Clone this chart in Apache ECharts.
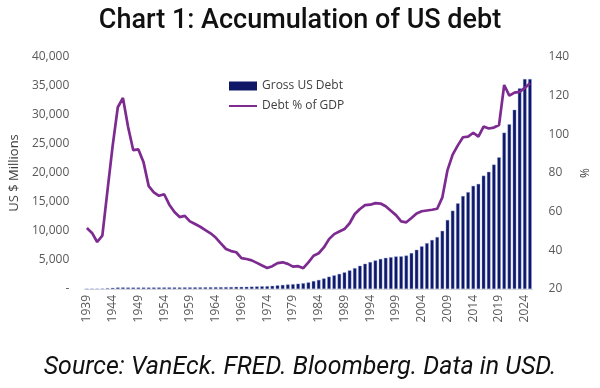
<!DOCTYPE html>
<html>
<head>
<meta charset="utf-8">
<script src="https://cdn.jsdelivr.net/npm/echarts@6/dist/echarts.min.js"></script>
<style>html,body{margin:0;padding:0;background:#fff}#c{width:600px;height:388px}</style>
</head>
<body>
<div id="c"></div>
<script>
const years = [];
for (let y = 1939; y <= 2025; y++) years.push(String(y));

const grossDebt = [
  48, 51, 58, 79, 143, 204, 260, 271, 257, 252,
  253, 257, 255, 259, 266, 271, 274, 273, 272, 280,
  287, 291, 293, 303, 310, 316, 322, 328, 340, 369,
  366, 381, 408, 436, 466, 484, 542, 629, 706, 777,
  829, 909, 995, 1137, 1372, 1565, 1817, 2121, 2346, 2601,
  2868, 3206, 3598, 4002, 4351, 4643, 4921, 5181, 5369, 5478,
  5606, 5629, 5770, 6198, 6760, 7355, 7905, 8451, 8951, 10025,
  11900, 13500, 14770, 16030, 16700, 17780, 18120, 19540, 20200, 21450,
  22700, 26950, 28400, 30900, 34600, 36200, 36200
];

const debtPctGdp = [
  51.5, 49, 44.3, 47.6, 71, 94, 114, 118.8, 103.8, 91.8,
  92.2, 85.5, 73.2, 70, 68.2, 69, 63.6, 59.8, 57.2, 57.8,
  55, 53.6, 52.2, 50.5, 48.8, 46.6, 43.6, 40.7, 39.6, 39,
  36, 35.5, 34.8, 33.5, 32.2, 30.9, 31.8, 33.4, 33.8, 33,
  31.6, 31.8, 30.8, 33.8, 37.2, 38.5, 41.5, 45.8, 48.4, 49.7,
  51, 54, 58.8, 61.4, 63.4, 63.6, 64.4, 64.2, 62.8, 60.5,
  58.2, 55, 54.5, 56.7, 59.1, 60.2, 60.6, 61, 61.5, 67.4,
  81.5, 89.5, 94.3, 98.5, 98.8, 100.8, 98.8, 104, 103, 103.5,
  104.8, 125.5, 120, 121.6, 122, 124, 126.4
];

const chart = echarts.init(document.getElementById('c'), null, {renderer: 'canvas'});
const axisFont = {fontFamily: 'Open Sans', fontSize: 12, color: '#595959'};
chart.setOption({
  animation: false,
  title: [
    {text: 'Chart 1: Accumulation of US debt', left: 'center', top: 3,
     textStyle: {fontFamily: 'Roboto', fontWeight: 500, fontSize: 27, color: '#111'}},
    {text: 'Source: VanEck. FRED. Bloomberg. Data in USD.', left: 'center', top: 350,
     textStyle: {fontFamily: 'Roboto', fontStyle: 'italic', fontWeight: 'normal', fontSize: 25, color: '#111'}}
  ],
  legend: {
    orient: 'vertical', left: 223, top: 75, itemWidth: 28, itemHeight: 9, itemGap: 8,
    textStyle: {fontFamily: 'Open Sans', fontSize: 12, color: '#404040'},
    data: [
      {name: 'Gross US Debt', icon: 'rect', itemStyle: {borderWidth: 0, color: '#0e1866'}},
      {name: 'Debt % of GDP', itemStyle: {opacity: 0}}
    ]
  },
  grid: {left: 80, right: 56, top: 57, bottom: 99},
  xAxis: {
    type: 'category', data: years,
    axisLine: {lineStyle: {color: '#d9d9d9'}},
    axisTick: {alignWithLabel: true, interval: 4, lineStyle: {color: '#d9d9d9'}},
    axisLabel: Object.assign({interval: 4, rotate: 90, margin: 6}, axisFont)
  },
  yAxis: [
    {type: 'value', min: 0, max: 40000, interval: 5000,
     name: 'US $ Millions', nameLocation: 'middle', nameGap: 62, nameRotate: 90,
     nameTextStyle: {fontFamily: 'Open Sans', fontSize: 13, color: '#404040'},
     splitLine: {show: false}, axisLine: {show: false}, axisTick: {show: false},
     axisLabel: Object.assign({margin: 15, formatter: v => v === 0 ? '-' : v.toLocaleString('en-US')}, axisFont)},
    {type: 'value', min: 20, max: 140, interval: 20,
     name: '%', nameLocation: 'middle', nameGap: 40, nameRotate: 90,
     nameTextStyle: {fontFamily: 'Open Sans', fontSize: 12, color: '#404040'},
     splitLine: {show: false}, axisLine: {show: false}, axisTick: {show: false},
     axisLabel: Object.assign({margin: 16}, axisFont)}
  ],
  series: [
    {name: 'Gross US Debt', type: 'bar', data: grossDebt, yAxisIndex: 0,
     barCategoryGap: '32%',
     itemStyle: {color: '#0e1866', borderColor: '#8f9fe0', borderWidth: 0.4}},
    {name: 'Debt % of GDP', type: 'line', data: debtPctGdp, yAxisIndex: 1,
     symbol: 'none', lineStyle: {color: '#7d2a91', width: 2.7}, itemStyle: {color: '#7d2a91'}}
  ]
});
</script>
</body>
</html>
